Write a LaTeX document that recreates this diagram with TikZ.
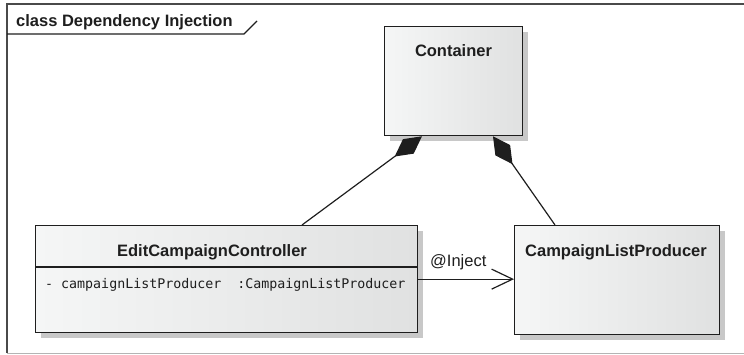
\documentclass[tikz,border=0pt]{standalone}
\usepackage{fontspec}
\setmainfont{Liberation Sans}
\newfontfamily\attrfont{DejaVu Sans Mono}
\usetikzlibrary{arrows.meta,shadows}
\definecolor{boxL}{HTML}{F5F6F6}
\definecolor{boxR}{HTML}{E0E1E1}
\definecolor{shad}{HTML}{C8C8C8}
\definecolor{ink}{HTML}{1E1E1E}
\definecolor{framec}{HTML}{4A4A4A}
\definecolor{framelight}{HTML}{B4B4B4}
\begin{document}
\begin{tikzpicture}[x=1pt,y=-1pt,
  classbox/.style={draw=ink, line width=1.3pt, left color=boxL, right color=boxR,
    drop shadow={shadow xshift=5pt, shadow yshift=-5pt, fill=shad, opacity=1},
    inner sep=0pt, anchor=north west},
  titletext/.style={font=\fontsize{16.5}{18}\selectfont\bfseries, text=ink, inner sep=0pt},
  plaintext/.style={font=\fontsize{16.5}{18}\selectfont, text=ink, inner sep=0pt},
  attrtext/.style={font=\attrfont\fontsize{13.3}{15}\selectfont, text=ink, inner sep=0pt},
  conn/.style={draw=ink, line width=1.2pt},
  sepline/.style={draw=ink, line width=1.2pt}]
\useasboundingbox (0,0) rectangle (744,355);
% frame
\draw[framec, line width=1.3pt] (744,4) -- (7,4) -- (7,353);
\draw[framelight, line width=1pt] (7,353) -- (744,353);
\draw[ink, line width=1.1pt] (7,34) -- (244,34) -- (257,21);
\node[titletext, anchor=base west] (frametitle) at (16,27) {class Dependency Injection};
% classes
\node[classbox, minimum width=138pt, minimum height=109pt] (container) at (384,26) {};
\node[titletext, anchor=base] (containerT) at (453.5,57) {Container};
\node[classbox, minimum width=382pt, minimum height=107pt] (edit) at (35,225) {};
\draw[sepline] ([yshift=-42pt]edit.north west) -- ([yshift=-42pt]edit.north east);
\node[titletext, anchor=base] (editT) at (212,256.5) {EditCampaignController};
\node[attrtext, anchor=base west] (editA) at (45,288.5) {-\ campaignListProducer\ \ :CampaignListProducer};
\node[classbox, minimum width=205pt, minimum height=109pt] (producer) at (514,225) {};
\node[titletext, anchor=base] (producerT) at (616,256.5) {CampaignListProducer};
% connectors
\coordinate (cL) at ([xshift=38pt]container.south west);
\coordinate (cR) at ([xshift=109pt]container.south west);
\coordinate (eT) at ([xshift=267pt]edit.north west);
\coordinate (pT) at ([xshift=41pt]producer.north west);
\draw[conn, {Diamond[length=34pt,width=18pt]}-] (cL) -- (eT);
\draw[conn, {Diamond[length=34pt,width=18pt]}-] (cR) -- (pT);
\draw[conn, -{Straight Barb[length=21pt,width=20pt]}] (edit.east) -- (edit.east -| producer.west);
\node[plaintext, anchor=base west] (inject) at (430,267) {@Inject};
\end{tikzpicture}
\end{document}
